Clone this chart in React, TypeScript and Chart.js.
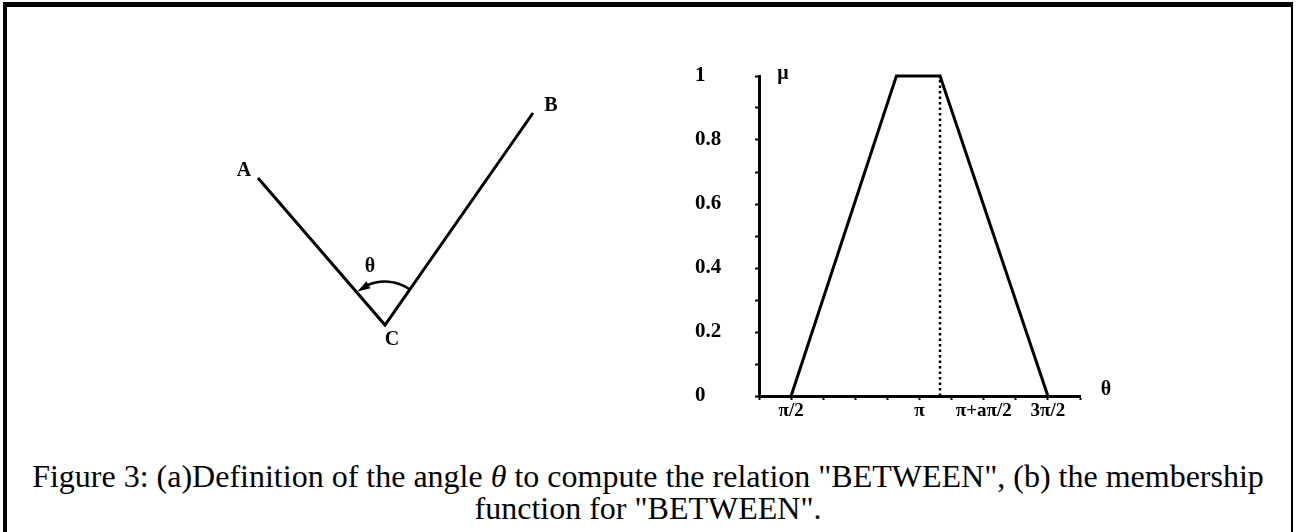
import React, { useEffect, useRef } from "react";
import { Chart, registerables } from "chart.js";

Chart.register(...registerables);

// ---------- membership function (b) — x in units of π ----------
const X_MIN = 0.375;
const X_MAX = 1.625;
const X_STEP = 0.125;
const xTickValues = [0.5, 1, 1.25, 1.5];
const xTickLabels = ["π/2", "π", "π+aπ/2", "3π/2"];
const yTickValues = [0, 0.2, 0.4, 0.6, 0.8, 1];
const yTickLabels = ["0", "0.2", "0.4", "0.6", "0.8", "1"];
const membershipX = [0.5, 0.91, 1.08, 1.5];
const membershipY = [0, 1, 1, 0];
const dashedX = [1.08, 1.08];
const dashedY = [0, 1];

// ---------- angle diagram (a) ----------
const pointNames = ["A", "C", "B"];
const pointX = [-12.7, 0, 14.8];
const pointY = [14.7, 0, 21.2];
const labelDx = [-14, 7, 18]; // label offsets in px from the point
const labelDy = [-7, 15, -7];
const arcRadius = 4.35;
const arcFromDeg = 56;
const arcToDeg = 129.5;

const SERIF = "'Liberation Serif', 'Times New Roman', serif";

function lookup(values: number[], labels: string[], v: number): string {
  for (let i = 0; i < values.length; i++) {
    if (Math.abs(values[i] - v) < 1e-6) return labels[i];
  }
  return "";
}

export default function App() {
  const leftRef = useRef<HTMLCanvasElement | null>(null);
  const rightRef = useRef<HTMLCanvasElement | null>(null);

  useEffect(() => {
    // ----- right chart -----
    const axisTitles = {
      id: "axisTitles",
      afterDraw(chart: any) {
        const { ctx, chartArea } = chart;
        ctx.save();
        ctx.fillStyle = "#000";
        ctx.font = `bold 20px ${SERIF}`;
        ctx.textAlign = "center";
        ctx.textBaseline = "middle";
        ctx.fillText("μ", chartArea.left + 24, chartArea.top - 2);
        ctx.fillText("θ", chartArea.right + 26, chartArea.bottom - 6);
        ctx.restore();
      },
    };

    const right = new Chart(rightRef.current!, {
      type: "scatter",
      data: {
        datasets: [
          {
            data: membershipX.map((x, i) => ({ x, y: membershipY[i] })),
            showLine: true,
            borderColor: "#000",
            borderWidth: 3,
            pointRadius: 0,
            tension: 0,
            clip: 6,
          },
          {
            data: dashedX.map((x, i) => ({ x, y: dashedY[i] })),
            showLine: true,
            borderColor: "#000",
            borderWidth: 2.5,
            borderDash: [2.5, 3],
            pointRadius: 0,
            clip: 6,
          },
        ],
      },
      options: {
        animation: false,
        responsive: false,
        events: [],
        layout: { padding: { left: 15, top: 26, right: 50, bottom: 0 } },
        plugins: { legend: { display: false }, tooltip: { enabled: false } },
        scales: {
          x: {
            type: "linear",
            min: X_MIN,
            max: X_MAX,
            afterFit: (s: any) => {
              s.height = 34;
            },
            border: { display: true, color: "#000", width: 3 },
            grid: {
              drawOnChartArea: false,
              drawTicks: true,
              tickLength: 4,
              tickWidth: 2,
              tickColor: "#000",
            },
            ticks: {
              stepSize: X_STEP,
              autoSkip: false,
              maxRotation: 0,
              padding: 0,
              color: "#000",
              font: { family: SERIF, size: 19, weight: "bold" },
              callback: (v: any) => lookup(xTickValues, xTickLabels, Number(v)),
            },
          },
          y: {
            type: "linear",
            min: 0,
            max: 1,
            afterFit: (s: any) => {
              s.width = 64;
            },
            border: { display: true, color: "#000", width: 3 },
            grid: {
              drawOnChartArea: false,
              drawTicks: true,
              tickLength: 4,
              tickWidth: 2,
              tickColor: "#000",
            },
            ticks: {
              stepSize: 0.1,
              autoSkip: false,
              crossAlign: "far",
              color: "#000",
              font: { family: SERIF, size: 21, weight: "bold" },
              callback: (v: any) => lookup(yTickValues, yTickLabels, Number(v)),
            },
          },
        },
      },
      plugins: [axisTitles],
    } as any);

    // ----- left diagram -----
    const diagramDecor = {
      id: "diagramDecor",
      afterDatasetsDraw(chart: any) {
        const { ctx } = chart;
        const xs = chart.scales.x;
        const ys = chart.scales.y;
        const cx = xs.getPixelForValue(pointX[1]);
        const cy = ys.getPixelForValue(pointY[1]);
        const r = xs.getPixelForValue(arcRadius) - xs.getPixelForValue(0);
        const a0 = (-arcFromDeg * Math.PI) / 180;
        const a1 = (-arcToDeg * Math.PI) / 180;
        const hl = 13;
        const hw = 4;
        ctx.save();
        ctx.strokeStyle = "#000";
        ctx.fillStyle = "#000";
        ctx.lineWidth = 2.5;
        ctx.beginPath();
        ctx.arc(cx, cy, r, a0, a1 + (hl - 2) / r, true);
        ctx.stroke();
        // arrow head touching line CA
        const ex = cx + r * Math.cos(a1);
        const ey = cy + r * Math.sin(a1);
        const tang = a1 - Math.PI / 2 + 0.15; // direction of travel toward CA
        const bx = ex - hl * Math.cos(tang);
        const by = ey - hl * Math.sin(tang);
        const nx = Math.cos(tang + Math.PI / 2);
        const ny = Math.sin(tang + Math.PI / 2);
        ctx.beginPath();
        ctx.moveTo(ex, ey);
        ctx.lineTo(bx + hw * nx, by + hw * ny);
        ctx.lineTo(bx - hw * nx, by - hw * ny);
        ctx.closePath();
        ctx.fill();
        // labels
        ctx.font = `bold 20px ${SERIF}`;
        ctx.textAlign = "center";
        ctx.textBaseline = "middle";
        for (let i = 0; i < pointNames.length; i++) {
          ctx.fillText(
            pointNames[i],
            xs.getPixelForValue(pointX[i]) + labelDx[i],
            ys.getPixelForValue(pointY[i]) + labelDy[i]
          );
        }
        ctx.fillText("θ", cx - 15, cy - 58);
        ctx.restore();
      },
    };

    const left = new Chart(leftRef.current!, {
      type: "scatter",
      data: {
        datasets: [
          {
            data: pointX.map((x, i) => ({ x, y: pointY[i] })),
            showLine: true,
            borderColor: "#000",
            borderWidth: 3,
            pointRadius: 0,
            tension: 0,
            borderJoinStyle: "miter",
          },
        ],
      },
      options: {
        animation: false,
        responsive: false,
        events: [],
        layout: { padding: 0 },
        plugins: { legend: { display: false }, tooltip: { enabled: false } },
        scales: {
          x: { type: "linear", min: -18.5, max: 21.5, display: false },
          y: { type: "linear", min: -5.5, max: 26.5, display: false },
        },
      },
      plugins: [diagramDecor],
    } as any);

    return () => {
      right.destroy();
      left.destroy();
    };
  }, []);

  return (
    <div
      style={{
        position: "absolute",
        left: 0,
        top: 0,
        width: 1296,
        height: 532,
        overflow: "hidden",
        background: "#fff",
      }}
    >
      <div
        style={{
          position: "absolute",
          left: 3,
          top: 2,
          width: 1284,
          height: 560,
          borderLeft: "4px solid #000",
          borderTop: "5px solid #000",
          borderRight: "2px solid #000",
        }}
      />
      <canvas
        ref={leftRef}
        width={400}
        height={320}
        style={{ position: "absolute", left: 200, top: 60, width: 400, height: 320 }}
      />
      <canvas
        ref={rightRef}
        width={450}
        height={380}
        style={{ position: "absolute", left: 680, top: 50, width: 450, height: 380 }}
      />
      <div
        style={{
          position: "absolute",
          left: 0,
          top: 460,
          width: 1296,
          textAlign: "center",
          fontFamily: SERIF,
          fontSize: 32,
          lineHeight: "32px",
          color: "#000",
          whiteSpace: "nowrap",
        }}
      >
        Figure 3: (a)Definition of the angle <i>θ</i> to compute the relation "BETWEEN", (b) the membership
        <br />
        function for "BETWEEN".
      </div>
    </div>
  );
}
